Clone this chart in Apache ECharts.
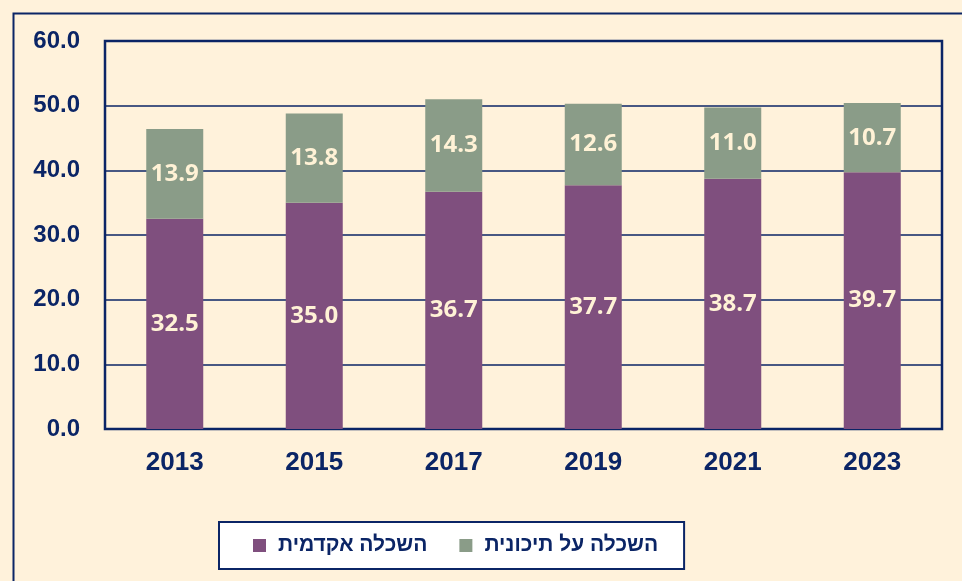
<!DOCTYPE html>
<html>
<head>
<meta charset="utf-8">
<script src="https://cdn.jsdelivr.net/npm/echarts@6/dist/echarts.min.js"></script>
<style>
  html, body { margin: 0; padding: 0; background: #fff2db; }
  #chart { width: 962px; height: 581px; }
</style>
</head>
<body>
<div id="chart"></div>
<script>
const years = ['2013', '2015', '2017', '2019', '2021', '2023']
const academic = [32.5, 35.0, 36.7, 37.7, 38.7, 39.7]
const postSecondary = [13.9, 13.8, 14.3, 12.6, 11.0, 10.7]
const seriesNames = ['השכלה אקדמית', 'השכלה על תיכונית']

const navy = '#0b2566'
const arial = '"Liberation Sans", Arial, sans-serif'
const labelStyle = {
  show: true,
  position: 'inside',
  color: '#fff2d6',
  fontFamily: '"Open Sans", sans-serif',
  fontWeight: 'bold',
  fontSize: 24,
  formatter: p => p.value.toFixed(1)
}

const chart = echarts.init(document.getElementById('chart'))
chart.setOption({
  backgroundColor: '#fff2db',
  animation: false,
  graphic: [{
    type: 'rect',
    left: 11, top: 11,
    shape: { width: 1000, height: 620 },
    style: { fill: 'none', stroke: navy, lineWidth: 2 },
    z: -1
  }],
  grid: { left: 105, right: 20, top: 41, bottom: 152, show: true, borderColor: navy, borderWidth: 2.5, backgroundColor: 'transparent' },
  legend: {
    left: 219, top: 522,
    backgroundColor: '#ffffff',
    borderColor: navy,
    borderWidth: 2,
    padding: [13, 26, 13, 34],
    itemGap: 32,
    itemWidth: 13,
    itemHeight: 13,
    icon: 'rect',
    textStyle: { color: navy, fontFamily: arial, fontWeight: 'bold', fontSize: 21, padding: [0, 0, 0, 7] },
    data: seriesNames
  },
  xAxis: {
    type: 'category',
    data: years,
    axisLine: { show: false },
    axisTick: { show: false },
    axisLabel: { color: navy, fontFamily: arial, fontWeight: 'bold', fontSize: 26, margin: 21 }
  },
  yAxis: {
    type: 'value',
    min: 0, max: 60, interval: 10,
    axisLine: { show: false },
    axisTick: { show: false },
    splitLine: { lineStyle: { color: navy, width: 1.5 } },
    axisLabel: { color: navy, fontFamily: arial, fontWeight: 'bold', fontSize: 24, margin: 25, formatter: v => v.toFixed(1) }
  },
  series: [
    { name: seriesNames[0], type: 'bar', stack: 'total', barWidth: 57, data: academic, itemStyle: { color: '#7f4f7e' }, label: labelStyle },
    { name: seriesNames[1], type: 'bar', stack: 'total', barWidth: 57, data: postSecondary, itemStyle: { color: '#8a9c88' }, label: labelStyle }
  ]
})
</script>
</body>
</html>
